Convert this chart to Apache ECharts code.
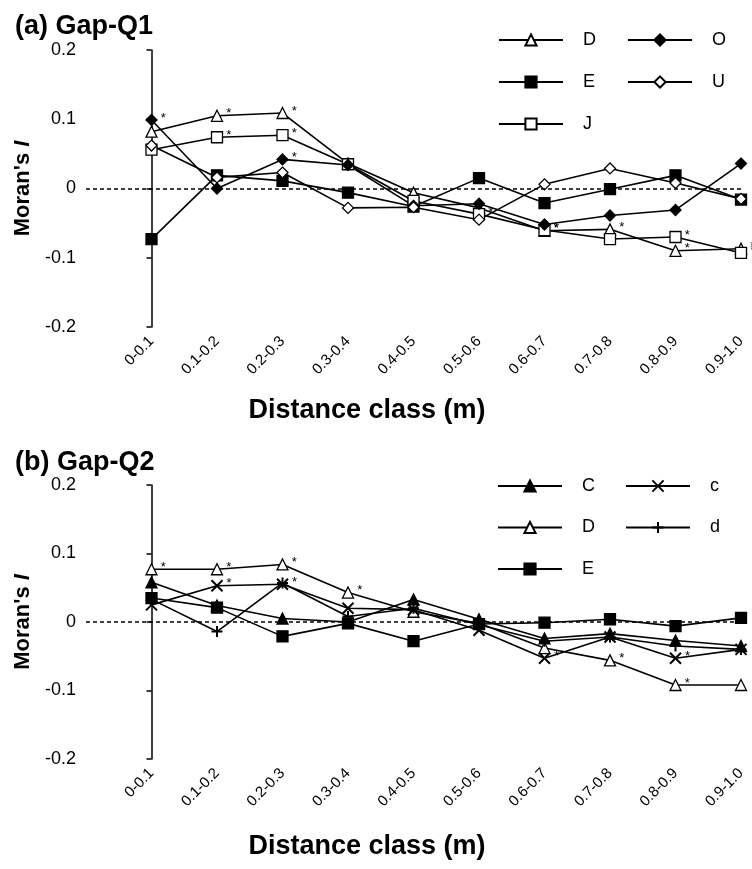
<!DOCTYPE html>
<html>
<head>
<meta charset="utf-8">
<script src="https://cdn.jsdelivr.net/npm/echarts@6/dist/echarts.min.js"></script>
<style>html,body{margin:0;padding:0;background:#fff;}#c{width:752px;height:869px;}</style>
</head>
<body>
<div id="c"></div>
<script>
const categories = ['0-0.1','0.1-0.2','0.2-0.3','0.3-0.4','0.4-0.5','0.5-0.6','0.6-0.7','0.7-0.8','0.8-0.9','0.9-1.0'];
const yTicks = [-0.2, -0.1, 0, 0.1, 0.2];

// Panel (a) Gap-Q1
const aD = [0.082, 0.105, 0.109, 0.036, -0.006, -0.028, -0.061, -0.059, -0.090, -0.087];
const aE = [-0.073, 0.019, 0.011, -0.006, -0.026, 0.015, -0.021, -0.001, 0.019, -0.016];
const aJ = [0.056, 0.074, 0.077, 0.035, -0.018, -0.037, -0.060, -0.073, -0.070, -0.093];
const aO = [0.099, 0.000, 0.042, 0.034, -0.025, -0.022, -0.052, -0.039, -0.031, 0.036];
const aU = [0.062, 0.016, 0.023, -0.028, -0.027, -0.045, 0.006, 0.029, 0.008, -0.015];
const aDsig = [0,1,1,0,0,0,1,1,1,1];
const aEsig = [0,0,0,0,0,0,0,0,0,0];
const aJsig = [0,1,1,0,0,1,1,0,1,1];
const aOsig = [1,0,1,0,0,0,0,0,0,0];
const aUsig = [0,0,0,0,0,0,0,0,0,0];

// Panel (b) Gap-Q2
const bC = [0.058, 0.024, 0.005, 0.000, 0.033, 0.004, -0.024, -0.017, -0.027, -0.035];
const bD = [0.077, 0.077, 0.084, 0.043, 0.015, -0.002, -0.038, -0.056, -0.092, -0.092];
const bE = [0.035, 0.021, -0.021, -0.002, -0.028, -0.003, -0.001, 0.004, -0.006, 0.006];
const bc = [0.025, 0.053, 0.055, 0.020, 0.018, -0.012, -0.053, -0.022, -0.053, -0.040];
const bd = [0.033, -0.014, 0.057, 0.008, 0.020, -0.004, -0.028, -0.022, -0.035, -0.040];
const bCsig = [0,0,0,0,0,0,0,0,0,0];
const bDsig = [1,1,1,1,0,0,0,1,1,0];
const bEsig = [0,0,0,0,0,0,0,0,0,0];
const bcsig = [0,1,1,0,0,0,1,0,1,0];
const bdsig = [0,0,0,0,0,0,0,0,0,0];

const FONT = "'Liberation Sans', Arial, Helvetica, sans-serif";
const SYM = {
  triOpen: {symbol: 'triangle', fill: '#fff'},
  triFill: {symbol: 'triangle', fill: '#000'},
  sqFill: {symbol: 'rect', fill: '#000'},
  sqOpen: {symbol: 'rect', fill: '#fff'},
  diaFill: {symbol: 'diamond', fill: '#000'},
  diaOpen: {symbol: 'diamond', fill: '#fff'},
  cross: {symbol: 'path://M0,0L10,10M10,0L0,10', fill: 'none'},
  plus: {symbol: 'path://M0,5L10,5M5,0L5,10', fill: 'none'}
};

function mk(id, name, vals, sig, sym, idx) {
  const s = SYM[sym];
  return {
    type: 'line', id: id, name: id,
    xAxisIndex: idx, yAxisIndex: idx,
    data: vals.map((v, i) => sig[i] ? {value: [i, v], label: {show: true}} : {value: [i, v]}),
    symbol: s.symbol,
    symbolSize: 11,
    showAllSymbol: true,
    itemStyle: {color: s.fill === 'none' ? '#000' : s.fill, borderColor: '#000', borderWidth: (sym === 'cross' || sym === 'plus') ? 2 : 1.3, opacity: 1},
    lineStyle: {color: '#000', width: 1.6},
    label: {show: false, formatter: '*', position: 'right', distance: 3, offset: [0, -2], fontSize: 13, color: '#000', fontFamily: FONT},
    emphasis: {disabled: true},
    z: 3
  };
}

function xAxis(idx) {
  return {
    type: 'value', gridIndex: idx, min: -1, max: 9, interval: 1,
    axisLine: {show: false}, axisTick: {show: false}, splitLine: {show: false},
    axisLabel: {
      rotate: 45, margin: 12, fontSize: 15, color: '#000', fontFamily: FONT,
      showMinLabel: true, showMaxLabel: true,
      formatter: v => (v >= 0 && v < categories.length) ? categories[v] : ''
    }
  };
}
function yAxis(idx) {
  return {
    type: 'value', gridIndex: idx, min: yTicks[0], max: yTicks[yTicks.length - 1], interval: 0.1,
    axisLine: {show: true, lineStyle: {color: '#000', width: 1.5}},
    axisTick: {show: true, length: 5, lineStyle: {color: '#000', width: 1.5}},
    splitLine: {show: false},
    axisLabel: {fontSize: 18, color: '#000', fontFamily: FONT, margin: 10,
      formatter: v => { const r = Math.round(v * 10) / 10; return r === 0 ? '0' : String(r); }},
    name: "Moran's {i|I}", nameLocation: 'middle', nameGap: 44,
    nameTextStyle: {fontSize: 22, fontWeight: 'bold', color: '#000', fontFamily: FONT,
      rich: {i: {fontSize: 22, fontWeight: 'bold', fontStyle: 'italic', color: '#000', fontFamily: FONT}}}
  };
}

const seriesA = [
  mk('a:D', 'D', aD, aDsig, 'triOpen', 0),
  mk('a:E', 'E', aE, aEsig, 'sqFill', 0),
  mk('a:J', 'J', aJ, aJsig, 'sqOpen', 0),
  mk('a:O', 'O', aO, aOsig, 'diaFill', 0),
  mk('a:U', 'U', aU, aUsig, 'diaOpen', 0)
];
const seriesB = [
  mk('b:C', 'C', bC, bCsig, 'triFill', 1),
  mk('b:D', 'D', bD, bDsig, 'triOpen', 1),
  mk('b:E', 'E', bE, bEsig, 'sqFill', 1),
  mk('b:c', 'c', bc, bcsig, 'cross', 1),
  mk('b:d', 'd', bd, bdsig, 'plus', 1)
];
const zeroLine = () => ({
  silent: true, symbol: 'none', label: {show: false},
  lineStyle: {color: '#000', type: [4, 3], width: 1.5},
  data: [{yAxis: 0}]
});
seriesA[0].markLine = zeroLine();
seriesB[0].markLine = zeroLine();

function legend(data, left, top, gap) {
  return {
    data: data, orient: 'vertical', left: left, top: top,
    itemWidth: 64, itemHeight: 14, itemGap: gap,
    selectedMode: false,
    formatter: n => n.split(':')[1],
    textStyle: {fontSize: 18, color: '#000', fontFamily: FONT, padding: [0, 0, 0, 15]}
  };
}

const chart = echarts.init(document.getElementById('c'), null, {renderer: 'canvas'});
chart.setOption({
  animation: false,
  backgroundColor: '#fff',
  title: [
    {text: '(a) Gap-Q1', left: 10, top: 8, textStyle: {fontSize: 27, fontWeight: 'bold', color: '#000', fontFamily: FONT}},
    {text: '(b) Gap-Q2', left: 10, top: 444, textStyle: {fontSize: 27, fontWeight: 'bold', color: '#000', fontFamily: FONT}},
    {text: 'Distance class (m)', left: 362, textAlign: 'center', top: 392, textStyle: {fontSize: 27, fontWeight: 'bold', color: '#000', fontFamily: FONT}},
    {text: 'Distance class (m)', left: 362, textAlign: 'center', top: 828, textStyle: {fontSize: 27, fontWeight: 'bold', color: '#000', fontFamily: FONT}}
  ],
  grid: [
    {left: 86, right: 11, top: 50, height: 277},
    {left: 86, right: 11, top: 485, height: 274}
  ],
  xAxis: [xAxis(0), xAxis(1)],
  yAxis: [yAxis(0), yAxis(1)],
  legend: [
    legend(['a:D', 'a:E', 'a:J'], 493, 26, 24),
    legend(['a:O', 'a:U'], 622, 26, 24),
    legend(['b:C', 'b:D', 'b:E'], 492, 472, 23.5),
    legend(['b:c', 'b:d'], 620, 472, 23.5)
  ],
  series: seriesA.concat(seriesB)
});
</script>
</body>
</html>
